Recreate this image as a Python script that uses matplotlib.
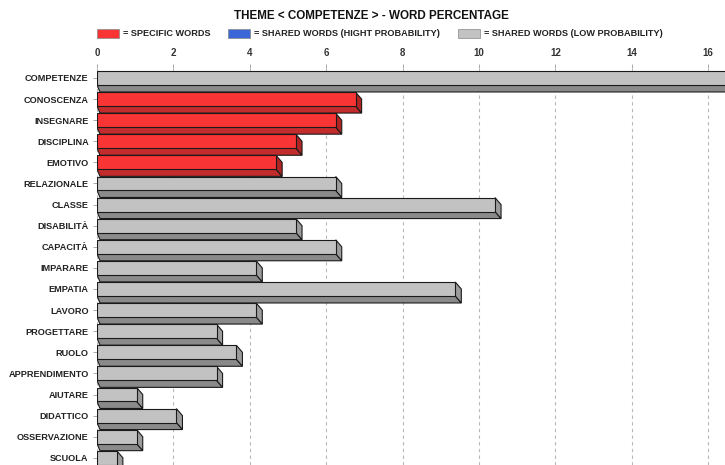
import matplotlib
matplotlib.use("Agg")
import matplotlib.pyplot as plt
from matplotlib.patches import Polygon, Rectangle

# Word percentages for the theme, top to bottom
words = ["COMPETENZE", "CONOSCENZA", "INSEGNARE", "DISCIPLINA", "EMOTIVO",
         "RELAZIONALE", "CLASSE", "DISABILITÀ", "CAPACITÀ", "IMPARARE",
         "EMPATIA", "LAVORO", "PROGETTARE", "RUOLO", "APPRENDIMENTO",
         "AIUTARE", "DIDATTICO", "OSSERVAZIONE", "SCUOLA"]
percent = [17.19, 6.77, 6.25, 5.21, 4.69,
           6.25, 10.42, 5.21, 6.25, 4.17,
           9.38, 4.17, 3.13, 3.65, 3.13,
           1.04, 2.08, 1.04, 0.52]
group = ["low", "specific", "specific", "specific", "specific",
         "low", "low", "low", "low", "low",
         "low", "low", "low", "low", "low",
         "low", "low", "low", "low"]
x_ticks = [0, 2, 4, 6, 8, 10, 12, 14, 16]

title = "THEME < COMPETENZE > - WORD PERCENTAGE"
legend_labels = ["= SPECIFIC WORDS", "= SHARED WORDS (HIGHT PROBABILITY)",
                 "= SHARED WORDS (LOW PROBABILITY)"]

# face colours: front, bottom, side
palette = {
    "specific": ("#f83434", "#c22c2c", "#b02424"),
    "high": ("#3a66d8", "#2a4ca8", "#24429a"),
    "low": ("#c2c2c2", "#8a8a8a", "#9c9c9c"),
}

FONT = ["Liberation Sans", "DejaVu Sans"]

W, H = 725, 465
fig = plt.figure(figsize=(W / 100, H / 100), dpi=100)
fig.patch.set_facecolor("white")

ax_top_px, ax_left_px = 68, 97
ax = fig.add_axes([ax_left_px / W, 0, 1 - ax_left_px / W, 1 - ax_top_px / H])
px_per_unit = 38.2
px_per_row = 21.1
ax.set_xlim(0, (W - ax_left_px) / px_per_unit)
ax.set_ylim((H - 78) / px_per_row, -(78 - ax_top_px) / px_per_row)

half = 0.33          # half height of the front face (rows)
dx = 6 / px_per_unit  # depth offset in x
dy = 7 / px_per_row   # depth offset in y

for i, (v, g) in enumerate(zip(percent, group)):
    front, bottom, side = palette[g]
    top_y, bot_y = i - half, i + half
    ax.add_patch(Polygon([(0, bot_y), (v, bot_y), (v + dx, bot_y + dy), (dx * 0.5, bot_y + dy)],
                         closed=True, facecolor=bottom, edgecolor="#1a1a1a", lw=0.8, zorder=3))
    ax.add_patch(Polygon([(v, top_y), (v + dx, top_y + dy), (v + dx, bot_y + dy), (v, bot_y)],
                         closed=True, facecolor=side, edgecolor="#1a1a1a", lw=0.8, zorder=3))
    ax.add_patch(Rectangle((0, top_y), v, 2 * half, facecolor=front,
                           edgecolor="#1a1a1a", lw=0.8, zorder=4))

ax.set_yticks(range(len(words)))
ax.set_yticklabels(words, fontfamily=FONT, fontweight="bold", fontsize=6.6, color="#222222")
ax.set_xticks(x_ticks)
ax.set_xticklabels([str(t) for t in x_ticks], fontfamily=FONT, fontweight="bold",
                   fontsize=7, color="#333333")
ax.xaxis.tick_top()
ax.tick_params(axis="x", length=3, width=0.6, color="#999999", pad=4)
ax.tick_params(axis="y", length=3, width=0.6, color="#999999", pad=3)
ax.set_axisbelow(True)
ax.grid(axis="x", color="#b8b8b8", linestyle=(0, (3, 3)), linewidth=0.8)
for s in ax.spines.values():
    s.set_visible(False)

fig.text(371 / W, 1 - 16 / H, title, ha="center", va="center", fontfamily=FONT,
         fontweight="bold", fontsize=8.4, color="#111111")

legend_x = [97, 228, 458]
legend_keys = ["specific", "high", "low"]
for lx, key, lab in zip(legend_x, legend_keys, legend_labels):
    fig.patches.append(Rectangle((lx / W, 1 - 38.5 / H), 22 / W, 9 / H,
                                 transform=fig.transFigure, facecolor=palette[key][0],
                                 edgecolor="#888888", lw=0.5))
    fig.text((lx + 26) / W, 1 - 34 / H, lab, ha="left", va="center", fontfamily=FONT,
             fontweight="bold", fontsize=6.6, color="#222222")

fig.savefig("out.png", dpi=100)
